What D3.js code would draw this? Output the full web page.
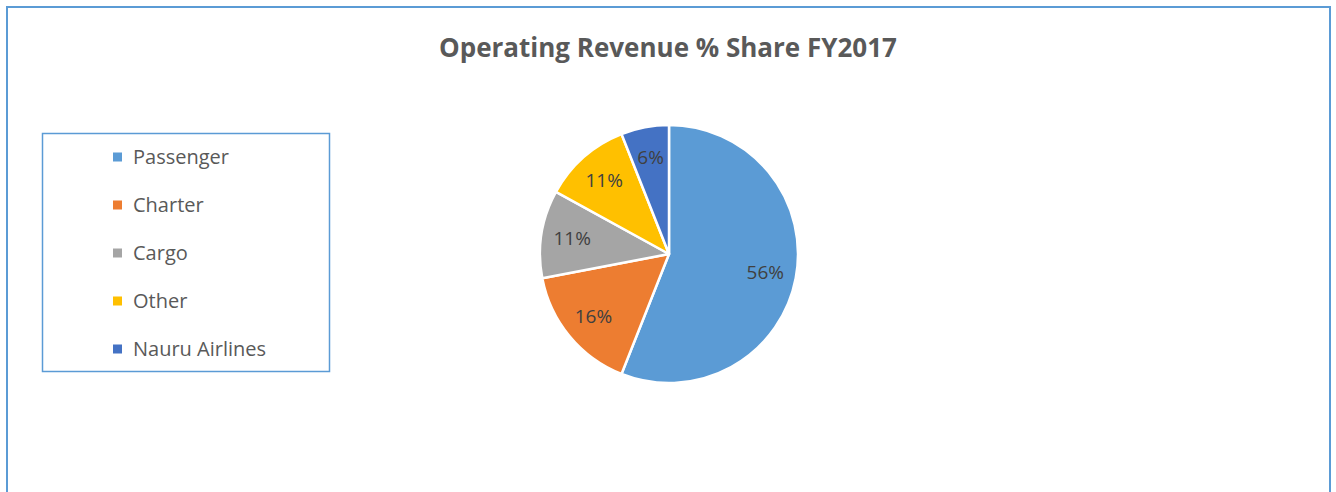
<head>
    <meta charset="utf-8">
    <style> body { margin: 0; background: #fff; } </style>
    <script src="https://d3js.org/d3.v7.min.js"></script>
</head>
<body>
<div id="chart"></div>
<script>

    var W = 1336, H = 492;

    // data
    var categories = ["Passenger", "Charter", "Cargo", "Other", "Nauru Airlines"];
    var shares = [56, 16, 11, 11, 6];
    var colors = ["#5b9bd5", "#ed7d31", "#a5a5a5", "#ffc000", "#4472c4"];
    var title = "Operating Revenue % Share FY2017";

    var font = "'Open Sans', 'Noto Sans', sans-serif";

    var svg = d3.select("#chart").append("svg")
        .attr("width", W)
        .attr("height", H);

    // outer chart frame (bottom runs off the picture)
    svg.append("rect")
        .attr("x", 7).attr("y", 7)
        .attr("width", 1323).attr("height", 500)
        .attr("fill", "#fff")
        .attr("stroke", "#5b9bd5")
        .attr("stroke-width", 2);

    svg.append("text")
        .attr("x", 668).attr("y", 57)
        .attr("text-anchor", "middle")
        .attr("font-family", font)
        .attr("font-weight", 700)
        .attr("font-size", 26)
        .attr("fill", "#595959")
        .text(title);

    // pie
    var cx = 669, cy = 254, r = 129;

    var pie = d3.pie().sort(null).value(d => d.v);
    var arc = d3.arc().innerRadius(0).outerRadius(r);
    var labelArc = d3.arc().innerRadius(r * 0.76).outerRadius(r * 0.76);

    var data = categories.map((c, i) => ({ c: c, v: shares[i], col: colors[i] }));

    var g = svg.append("g").attr("transform", "translate(" + cx + "," + cy + ")");

    var slices = g.selectAll(".slice")
        .data(pie(data))
        .enter().append("g").attr("class", "slice");

    slices.append("path")
        .attr("d", arc)
        .attr("fill", d => d.data.col)
        .attr("stroke", "#fff")
        .attr("stroke-width", 2.5)
        .attr("stroke-linejoin", "round");

    slices.append("text")
        .attr("transform", d => "translate(" + labelArc.centroid(d) + ")")
        .attr("text-anchor", "middle")
        .attr("dy", "0.35em")
        .attr("font-family", font)
        .attr("font-size", 19)
        .attr("fill", "#404040")
        .text(d => d.data.v + "%");

    // legend
    svg.append("rect")
        .attr("x", 42.5).attr("y", 133.5)
        .attr("width", 287).attr("height", 238)
        .attr("fill", "#fff")
        .attr("stroke", "#5b9bd5")
        .attr("stroke-width", 1.5);

    var leg = svg.selectAll(".leg")
        .data(data)
        .enter().append("g")
        .attr("class", "leg")
        .attr("transform", (d, i) => "translate(113," + (157 + i * 48) + ")");

    leg.append("rect")
        .attr("x", 0).attr("y", -4.5)
        .attr("width", 9).attr("height", 9)
        .attr("fill", d => d.col);

    leg.append("text")
        .attr("x", 20)
        .attr("dy", "0.35em")
        .attr("font-family", font)
        .attr("font-size", 20)
        .attr("fill", "#595959")
        .text(d => d.c);

</script>
</body>
